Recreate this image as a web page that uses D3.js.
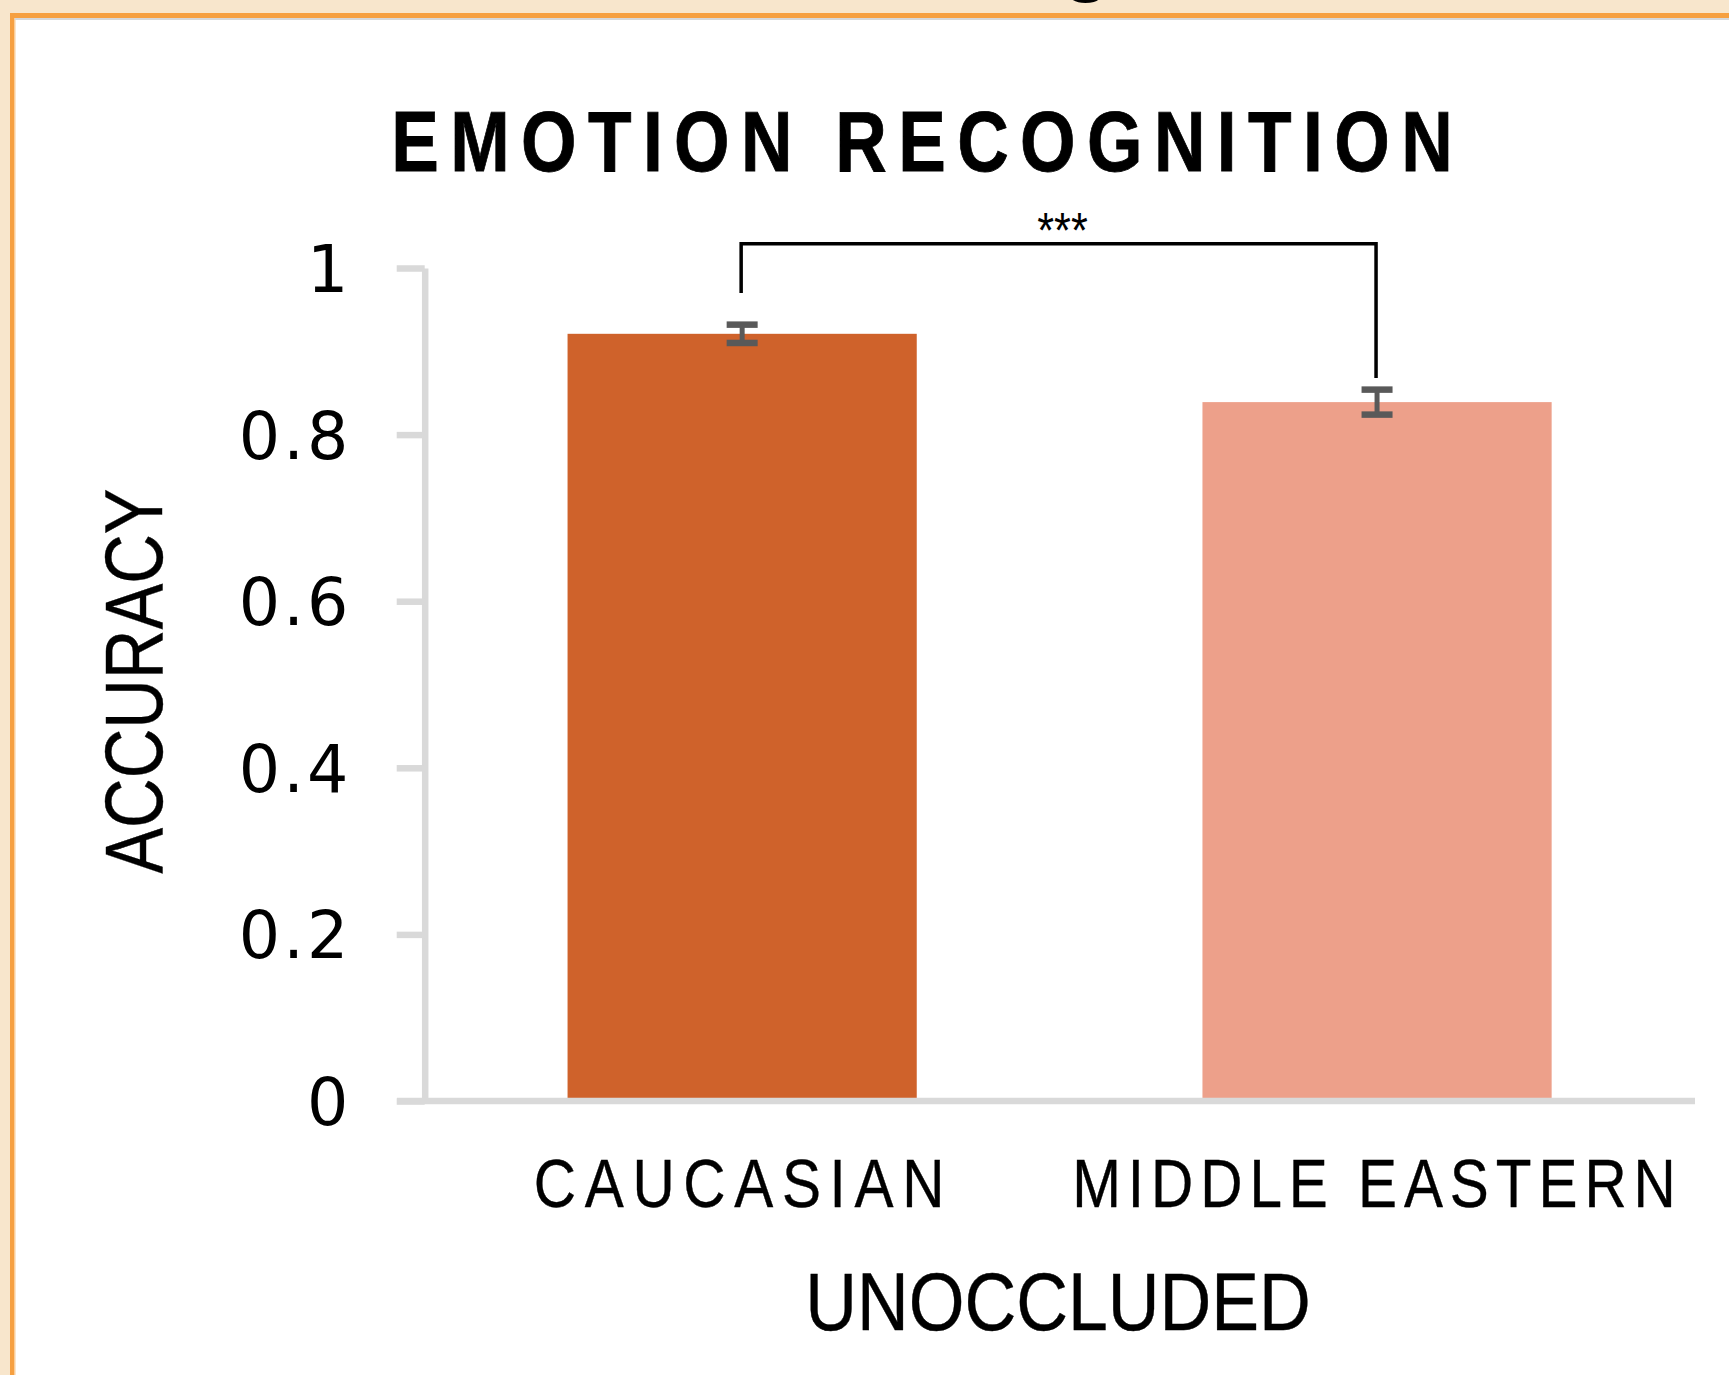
<!DOCTYPE html>
<html><head><meta charset="utf-8">
<script src="https://cdn.jsdelivr.net/npm/d3@7"></script>
<style>html,body{margin:0;padding:0;background:#fff;overflow:hidden}</style>
</head><body>
<svg id="chart" width="1729" height="1375"></svg>
<script>
// ---- data ----
const categories = ["CAUCASIAN", "MIDDLE EASTERN"];
const accuracy = [0.921, 0.839];
const stdError = [0.011, 0.015];
const yTickValues = [0, 0.2, 0.4, 0.6, 0.8, 1];
const yTickLabels = ["0", "0.2", "0.4", "0.6", "0.8", "1"];
const barColors = ["#CF622B", "#EDA08A"];
const sigLabel = "***";
const sigBracketTop = 1.029;
const sigBracketEnds = [0.970, 0.868];
const chartTitle = "EMOTION RECOGNITION";
const yTitle = "ACCURACY";
const xTitle = "UNOCCLUDED";

const FONT = "'Liberation Sans', Arial, sans-serif";
const TICKFONT = "'DejaVu Sans', 'Liberation Sans', sans-serif";
const svg = d3.select("#chart");

// ---- frame ----
svg.append("rect").attr("x",0).attr("y",0).attr("width",1729).attr("height",1375).attr("fill","#fff");
svg.append("rect").attr("x",0).attr("y",0).attr("width",1729).attr("height",13).attr("fill","#F8E6CC");
svg.append("rect").attr("x",0).attr("y",0).attr("width",10).attr("height",1375).attr("fill","#F8E6CC");
svg.append("text").attr("x",1062).attr("y",-14).attr("font-family",FONT).attr("font-weight","bold")
  .attr("font-size",80).attr("fill","#000").text("g");
svg.append("rect").attr("x",10).attr("y",13).attr("width",1719).attr("height",5).attr("fill","#F6A041");
svg.append("rect").attr("x",10).attr("y",13).attr("width",4.5).attr("height",1362).attr("fill","#F6A041");
svg.append("rect").attr("x",14.5).attr("y",18).attr("width",1).attr("height",1357).attr("fill","#F9CB94");
svg.append("rect").attr("x",15).attr("y",18).attr("width",1714).attr("height",2).attr("fill","#D5D7DA");

// ---- text helper: fits text between x0 and x1 with horizontal glyph scale ----
function fitText(parent, str, o) {
  const t = parent.append("text").attr("font-family", o.family || FONT)
    .attr("font-size", o.size).attr("font-weight", o.weight || "normal")
    .attr("fill", "#000").attr("x", 0).attr("y", 0).text(str);
  if (o.stroke) t.attr("stroke", "#000").attr("stroke-width", o.stroke);
  const w = t.node().getComputedTextLength();
  const target = Math.abs(o.x1 - o.x0);
  const bear = 0.08 * o.size;
  let s = o.sx, L = 0;
  if (s == null) s = target / (w - bear);
  else if (str.length > 1) L = ((target / s + bear) - w) / (str.length - 1);
  t.attr("letter-spacing", L);
  const start = o.x0 + (o.rotate ? 1 : -1) * 0.04 * o.size * s;
  t.attr("transform", o.rotate
    ? `translate(${o.baseline},${start}) rotate(-90) scale(${s},1)`
    : `translate(${start},${o.baseline}) scale(${s},1)`);
  return t;
}

// ---- scales ----
const axisX = 424.7;
const y = d3.scaleLinear().domain([0, 1]).range([1101, 268]);
const x = d3.scaleBand().domain(categories).range([axisX, 1694.5])
  .paddingInner(0.45).paddingOuter(0.225);
const AX = "#D9D9D9";

// ---- bars ----
svg.append("g").selectAll("rect").data(categories).join("rect")
  .attr("x", d => x(d)).attr("y", (d, i) => y(accuracy[i]))
  .attr("width", x.bandwidth()).attr("height", (d, i) => y(0) - y(accuracy[i]))
  .attr("fill", (d, i) => barColors[i]);

// ---- y axis ----
const yAxis = d3.axisLeft(y).tickValues(yTickValues).tickFormat((d, i) => yTickLabels[i])
  .tickSize(28).tickSizeOuter(0).tickPadding(52);
const gy = svg.append("g").attr("transform", `translate(${axisX},0)`).call(yAxis);
gy.select(".domain").attr("stroke", AX).attr("stroke-width", 6.5);
gy.selectAll(".tick line").attr("stroke", AX).attr("stroke-width", 6.5);
gy.selectAll(".tick text").each(function(d, i) {
  const t = d3.select(this);
  const size = 65;
  t.attr("font-family", TICKFONT).attr("font-size", size).attr("fill", "#000")
   .attr("dy", null).attr("text-anchor", "start");
  const lbl = yTickLabels[i];
  const w = this.getComputedTextLength();
  let L = 0;
  if (lbl.length > 1) L = ((103 + 0.1 * size) - w) / (lbl.length - 1);
  t.attr("letter-spacing", L);
  const adv = w + L * (lbl.length - 1);
  const rightInk = 345 - axisX;
  t.attr("x", rightInk + 0.05 * size - adv).attr("y", 0.36 * size);
});

// ---- x baseline ----
svg.append("line").attr("x1", 397).attr("x2", 1695).attr("y1", y(0)).attr("y2", y(0))
  .attr("stroke", AX).attr("stroke-width", 6.5);

// ---- error bars ----
const EB = "#595959";
const eb = svg.append("g");
categories.forEach((c, i) => {
  const cx = x(c) + x.bandwidth() / 2;
  const hi = y(accuracy[i] + stdError[i]), lo = y(accuracy[i] - stdError[i]);
  eb.append("line").attr("x1", cx).attr("x2", cx).attr("y1", hi).attr("y2", lo)
    .attr("stroke", EB).attr("stroke-width", 5);
  [hi, lo].forEach(v => eb.append("line").attr("x1", cx - 15.5).attr("x2", cx + 15.5)
    .attr("y1", v).attr("y2", v).attr("stroke", EB).attr("stroke-width", 6.5));
});

// ---- significance bracket ----
const c0 = x(categories[0]) + x.bandwidth() / 2 - 1;
const c1 = x(categories[1]) + x.bandwidth() / 2 - 1;
svg.append("path")
  .attr("d", `M${c0},${y(sigBracketEnds[0])}V${y(sigBracketTop)}H${c1}V${y(sigBracketEnds[1])}`)
  .attr("fill", "none").attr("stroke", "#000").attr("stroke-width", 3.5);
fitText(svg, sigLabel, {x0: 1039, x1: 1086, baseline: 248, size: 50});

// ---- titles ----
fitText(svg, chartTitle, {x0: 394, x1: 1450, baseline: 171, size: 85, weight: "bold", sx: 0.84, stroke: 0.8});
categories.forEach((c, i) => {
  const cx = x(c) + x.bandwidth() / 2 - 3;
  const w = i === 0 ? 406 : 599;
  fitText(svg, c, {x0: cx - w / 2, x1: cx + w / 2, baseline: 1207, size: 68, sx: 0.86, stroke: 0.4});
});
fitText(svg, xTitle, {x0: 808, x1: 1308, baseline: 1330, size: 81, stroke: 0.4});
fitText(svg, yTitle, {x0: 871, x1: 491, baseline: 162, size: 82, rotate: true, stroke: 0.4});
</script>
</body></html>
